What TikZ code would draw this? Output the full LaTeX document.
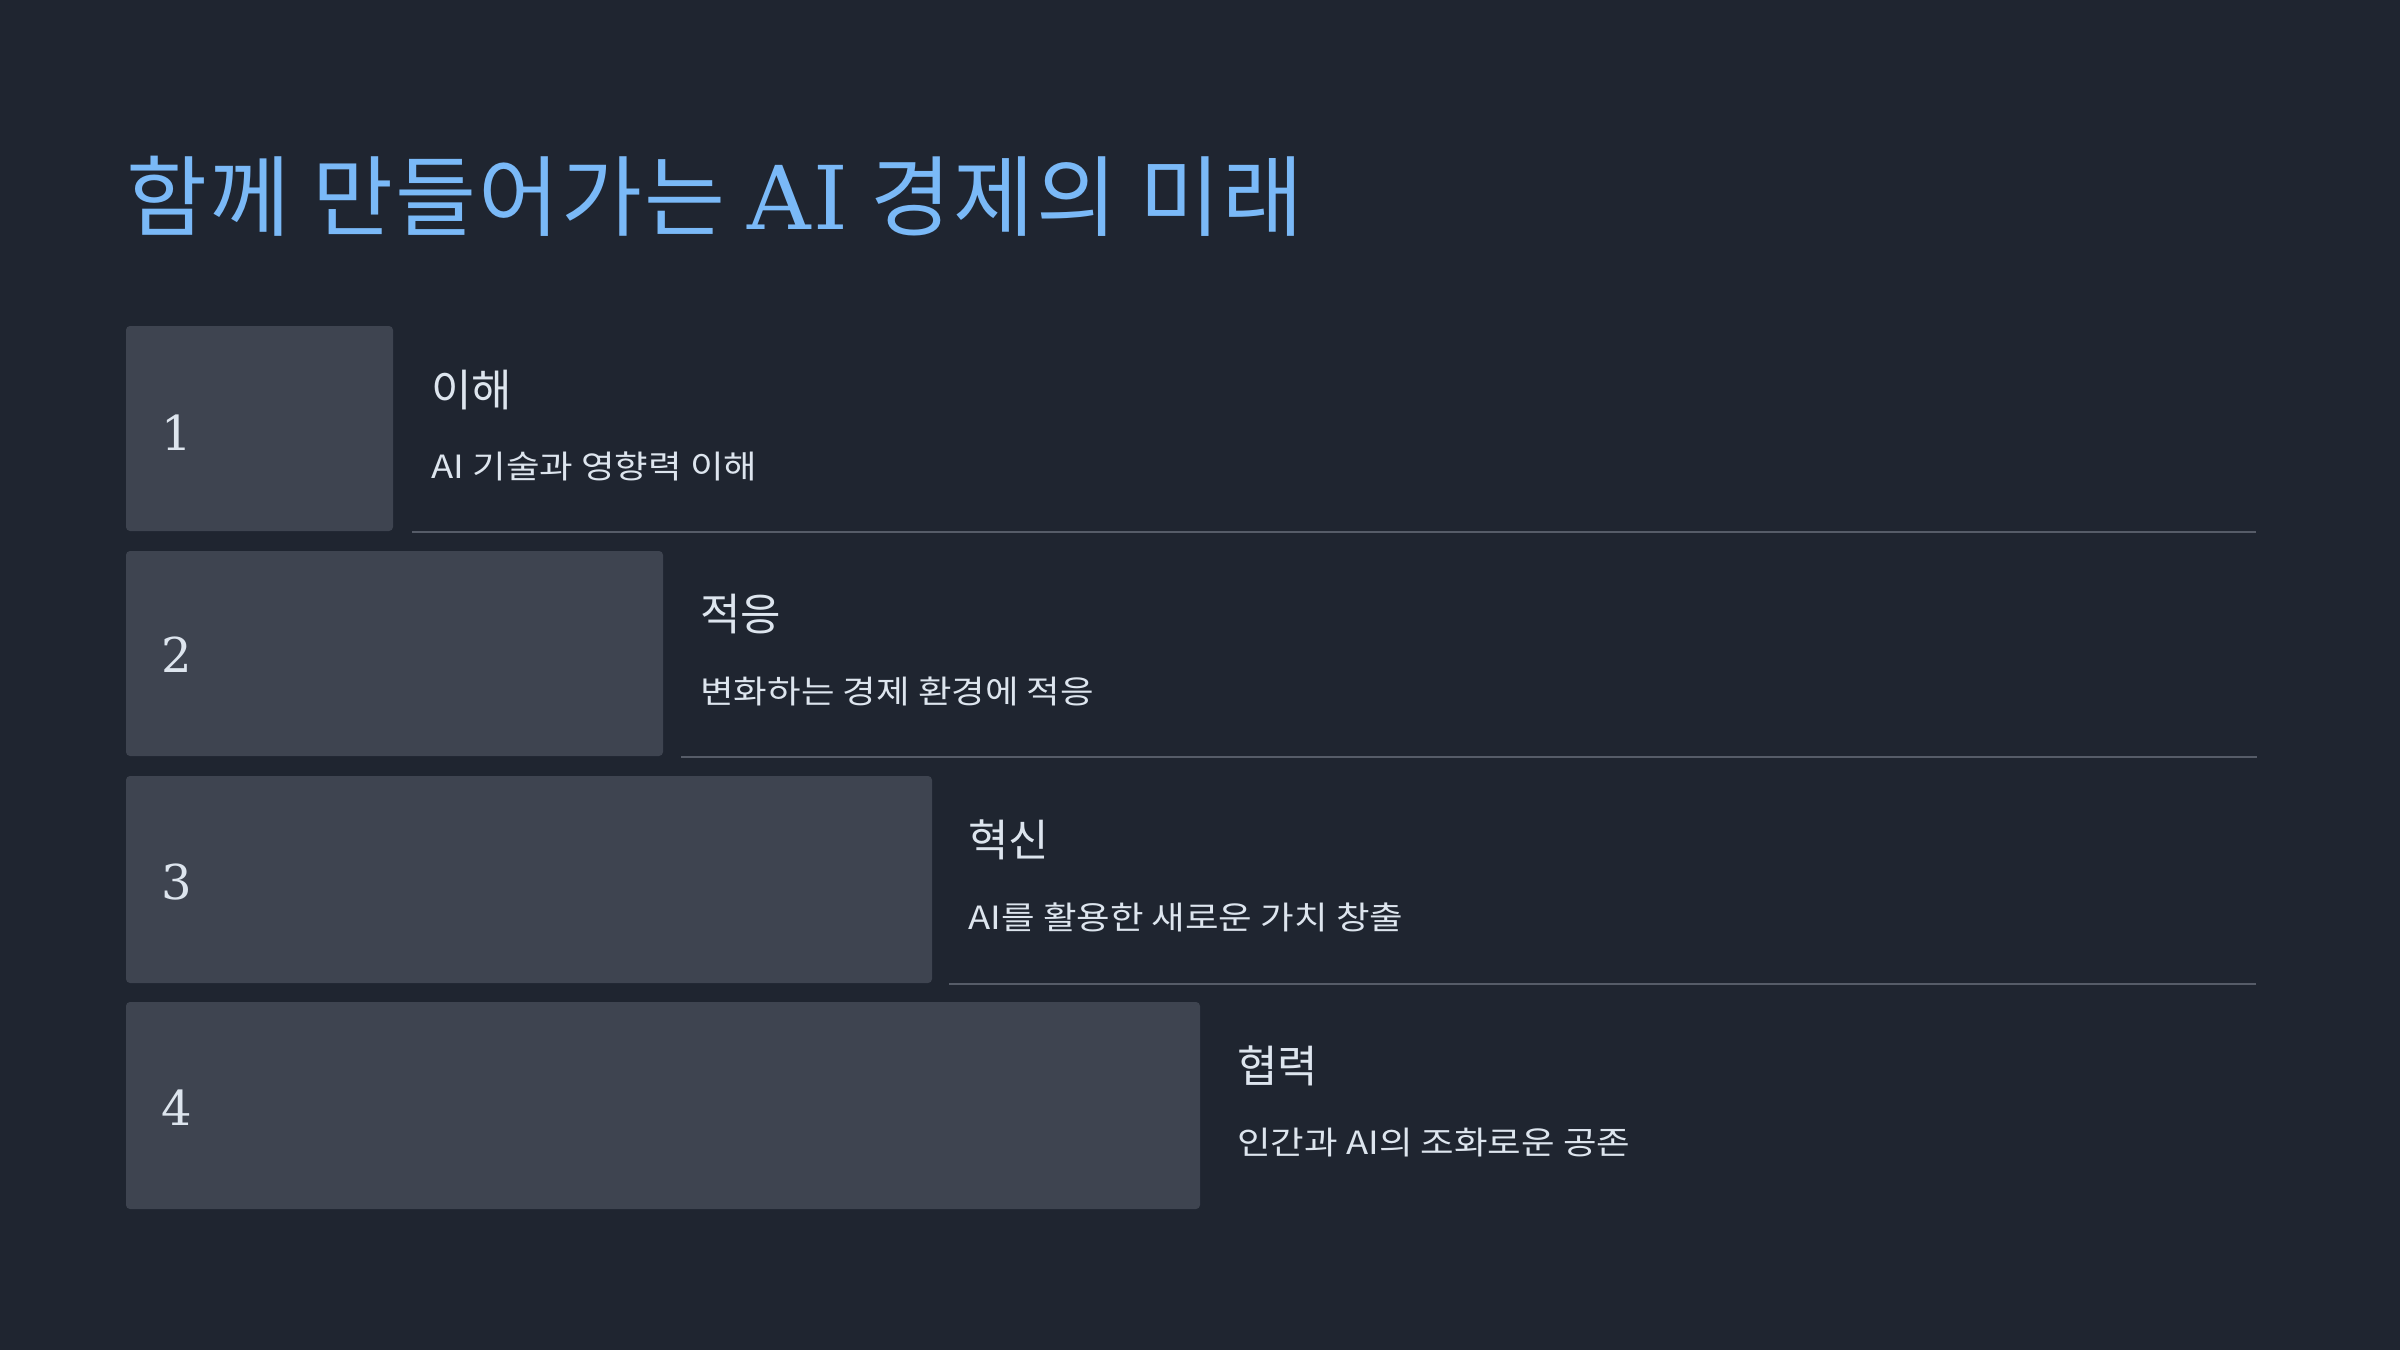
\documentclass[tikz,border=0pt]{standalone}
\usepackage{fontspec}
\setmainfont{DejaVu Serif}
\newfontfamily\kr{Noto Sans CJK KR}
\newfontfamily\krsub[FakeStretch=1.14]{Noto Sans CJK KR}
\newfontfamily\krtitle[LetterSpace=2.5]{Noto Sans CJK KR}
\newfontfamily\slab{DejaVu Serif}
\newfontfamily\slabtitle[LetterSpace=2.5]{DejaVu Serif}
\definecolor{bg}{HTML}{1F2530}
\definecolor{boxc}{HTML}{3E4450}
\definecolor{linec}{HTML}{565C68}
\definecolor{titlec}{HTML}{7AB9F7}
\definecolor{txt}{HTML}{DDE5EE}
\tikzset{
  px/.style={x=0.5pt,y=-0.5pt},
  stepbox/.style={fill=boxc,rounded corners=2pt,draw=none},
  sepline/.style={draw=linec,line width=1pt},
  numtxt/.style={anchor=west,inner sep=0pt,text=txt,font=\slab\fontsize{24pt}{28pt}\selectfont},
  headtxt/.style={anchor=west,inner sep=0pt,text=txt,font=\kr\fontsize{22pt}{26pt}\selectfont},
  subtxt/.style={anchor=west,inner sep=0pt,text=txt,font=\krsub\fontsize{16pt}{20pt}\selectfont},
  titletxt/.style={anchor=west,inner sep=0pt,text=titlec,font=\krtitle\fontsize{44pt}{50pt}\selectfont}
}
\begin{document}
\begin{tikzpicture}[px]
\fill[bg] (0,0) rectangle (2400,1350);
\useasboundingbox (0,0) rectangle (2400,1350);
\node[titletxt] (title) at (126,196) {함께 만들어가는 {\slabtitle AI} 경제의 미래};
% boxes
\fill[stepbox] (126,326) rectangle (393,531);
\fill[stepbox] (126,551) rectangle (663,756);
\fill[stepbox] (126,776) rectangle (932,983);
\fill[stepbox] (126,1002) rectangle (1200,1209);
% separator lines
\coordinate (l1a) at (412,531.5); \coordinate (l1b) at (2256,531.5);
\coordinate (l2a) at (681,757); \coordinate (l2b) at (2257,757);
\coordinate (l3a) at (949,983.5); \coordinate (l3b) at (2256,983.5);
\draw[sepline] (l1a) -- (l1b);
\draw[sepline] (l2a) -- (l2b);
\draw[sepline] (l3a) -- (l3b);
% numbers
\node[numtxt] (n1) at (161,433) {1};
\node[numtxt] (n2) at (161,655) {2};
\node[numtxt] (n3) at (161,882) {3};
\node[numtxt] (n4) at (161,1108) {4};
% headings
\node[headtxt] (h1) at (431,390) {이해};
\node[subtxt] (s1) at (431,466) {AI 기술과 영향력 이해};
\node[headtxt] (h2) at (700,614) {적응};
\node[subtxt] (s2) at (700,691) {변화하는 경제 환경에 적응};
\node[headtxt] (h3) at (968,840) {혁신};
\node[subtxt] (s3) at (968,917) {AI를 활용한 새로운 가치 창출};
\node[headtxt] (h4) at (1237,1066) {협력};
\node[subtxt] (s4) at (1237,1143) {인간과 AI의 조화로운 공존};
\end{tikzpicture}
\end{document}
